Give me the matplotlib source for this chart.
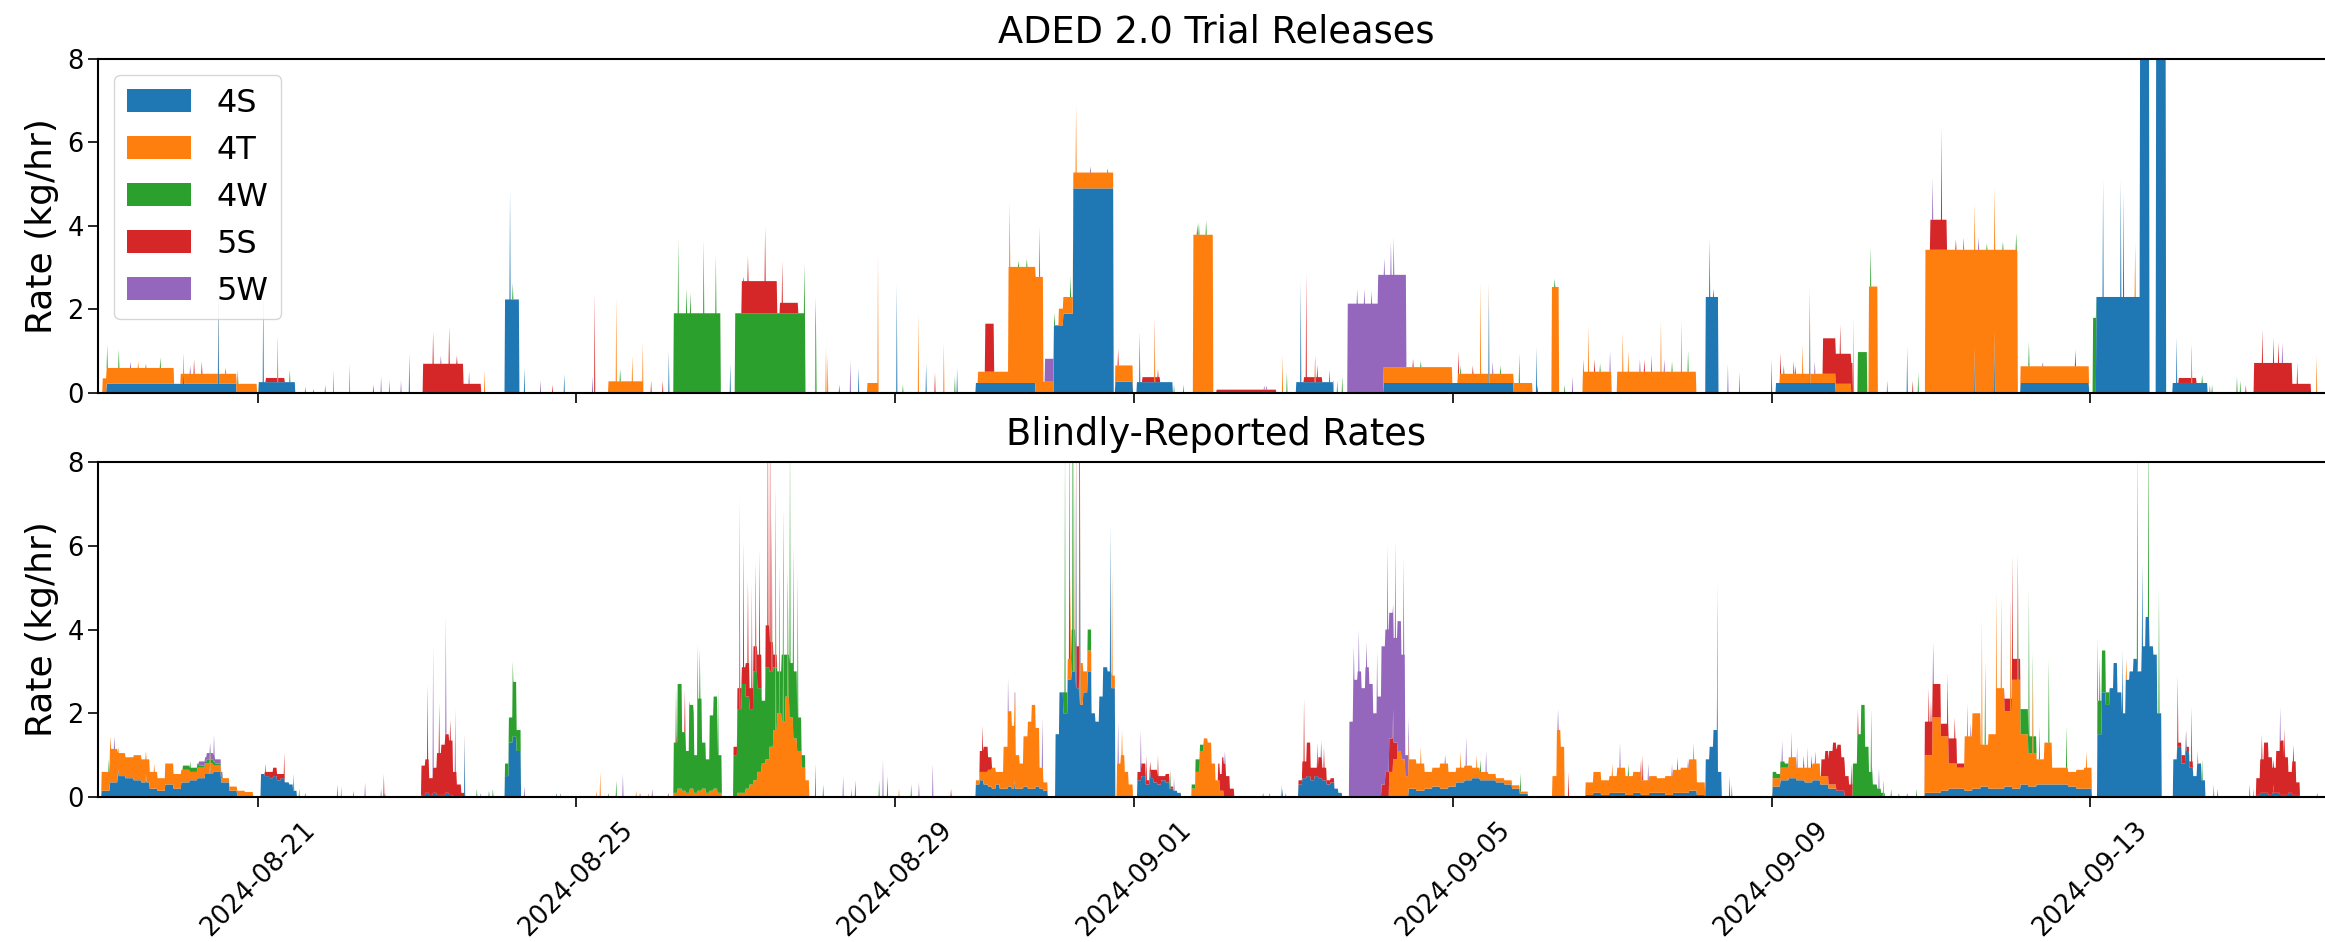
import numpy as np
import matplotlib
matplotlib.use('Agg')
import matplotlib.pyplot as plt
import matplotlib.dates as mdates

series = ['4S', '4T', '4W', '5S', '5W']
t0 = np.datetime64('2024-08-19T00:00')
step = 1 / 144   # 10 minute samples
n_days = 28.1

# ---------------- trial releases: (start day, end day, kg/hr), day 0 = 2024-08-19
trial_4S = [(0.10, 1.73, 0.22), (2.01, 2.47, 0.26), (5.10, 5.28, 2.24), (11.01, 11.76, 0.24),
            (11.99, 12.11, 1.62), (12.11, 12.23, 1.90), (12.23, 12.74, 4.90), (12.76, 12.98, 0.27),
            (13.03, 13.48, 0.26), (15.03, 15.50, 0.26), (16.13, 17.76, 0.24), (20.17, 20.33, 2.30),
            (21.05, 21.80, 0.24), (24.12, 24.98, 0.24), (25.07, 25.62, 2.30), (25.62, 25.74, 9.00),
            (25.82, 25.95, 9.00), (26.03, 26.47, 0.24)]
trial_4T = [(0.05, 0.10, 0.35), (0.10, 0.95, 0.38), (1.03, 1.73, 0.24), (1.73, 1.99, 0.22),
            (6.40, 6.83, 0.28), (9.65, 9.79, 0.24), (11.04, 11.42, 0.27), (11.42, 11.86, 2.78),
            (11.86, 11.99, 0.27), (12.05, 12.23, 0.40), (12.23, 12.74, 0.38), (12.76, 12.98, 0.39),
            (13.74, 13.99, 3.79), (16.13, 16.99, 0.38), (17.06, 17.76, 0.22), (17.76, 18.00, 0.24),
            (18.24, 18.33, 2.54), (18.63, 18.99, 0.51), (19.06, 20.05, 0.51), (21.10, 22.00, 0.22),
            (22.22, 22.33, 2.55), (22.93, 24.09, 3.43), (24.12, 24.98, 0.40)]
trial_4W = [(7.22, 7.81, 1.91), (7.99, 8.87, 1.91), (22.08, 22.20, 0.98), (25.03, 25.07, 1.80)]
trial_5S = [(2.10, 2.34, 0.10), (4.07, 4.58, 0.70), (4.58, 4.80, 0.22), (8.07, 8.52, 0.77),
            (8.55, 8.78, 0.25), (11.13, 11.24, 1.15), (13.10, 13.32, 0.12), (14.03, 14.78, 0.08),
            (15.13, 15.36, 0.12), (21.64, 21.80, 0.85), (21.80, 22.02, 0.72), (22.99, 23.20, 0.72),
            (26.11, 26.33, 0.12), (27.05, 27.53, 0.72), (27.53, 27.77, 0.22)]
trial_5W = [(11.88, 11.99, 0.55), (15.68, 16.06, 2.14), (16.06, 16.13, 2.83), (16.13, 16.41, 2.21)]

# single-sample spikes (day, kg/hr added)
trial_spk_4S = [(1.07, 0.5), (1.51, 2.3), (2.07, 2.2), (3.90, 0.95), (5.17, 2.6), (5.35, 0.6),
                (5.85, 0.45), (7.16, 1.0), (7.93, 0.7), (9.54, 0.6), (10.02, 2.6), (10.39, 0.7),
                (10.78, 0.6), (13.07, 1.2), (15.09, 2.4), (17.45, 2.2), (18.05, 1.1), (20.22, 1.4),
                (21.00, 0.8), (21.48, 2.1), (22.70, 1.1), (23.55, 1.1), (23.80, 1.5), (25.16, 2.8),
                (25.38, 2.8), (25.42, 2.5), (26.08, 1.1)]
trial_spk_4T = [(0.50, 0.15), (2.25, 1.0), (2.95, 0.55), (3.15, 0.7), (4.85, 0.55), (6.50, 2.0),
                (6.70, 0.6), (6.83, 1.2), (9.13, 1.1), (9.15, 0.9), (9.785, 3.1), (10.29, 1.9),
                (10.61, 1.2), (11.44, 1.56), (12.27, 1.6), (13.26, 1.4), (14.86, 0.9), (15.27, 0.5),
                (17.35, 2.2), (18.64, 0.3), (18.70, 1.1), (19.13, 0.95), (19.20, 0.5), (19.61, 1.2),
                (19.87, 1.2), (21.39, 0.7), (22.03, 1.8), (25.56, 1.3), (26.27, 0.8), (27.84, 0.9)]
trial_spk_4W = [(0.11, 0.55), (0.26, 0.45), (0.78, 0.25), (1.75, 0.34), (2.40, 0.3), (2.60, 0.15),
                (2.85, 0.2), (5.20, 0.4), (6.55, 0.3), (7.28, 1.8), (7.38, 0.6), (7.43, 0.5),
                (7.60, 1.75), (7.75, 1.4), (8.86, 1.2), (9.01, 1.6), (10.10, 0.2), (10.75, 0.4),
                (11.55, 0.15), (11.65, 0.2), (12.00, 0.3), (12.20, 0.5), (12.67, 0.1), (13.50, 0.2),
                (13.62, 0.2), (13.81, 0.3), (13.90, 0.35), (14.92, 0.5), (15.45, 0.3), (15.55, 0.3),
                (15.61, 0.4), (16.60, 0.15), (17.10, 0.2), (17.60, 0.2), (17.83, 0.7), (18.28, 0.2),
                (18.40, 0.2), (18.85, 0.2), (19.75, 0.25), (19.95, 0.5), (20.27, 0.2), (21.15, 0.2),
                (21.30, 0.2), (22.24, 0.95), (22.84, 0.5), (23.70, 0.15), (23.90, 0.2), (24.07, 0.4),
                (24.23, 0.6), (25.88, 0.5), (26.40, 0.2), (26.53, 0.2), (26.84, 0.4), (26.88, 0.3)]
trial_spk_5S = [(1.20, 0.35), (1.30, 0.3), (2.70, 0.1), (3.45, 0.2), (4.20, 0.78), (4.40, 0.9),
                (4.50, 0.2), (5.70, 0.2), (6.23, 2.4), (6.94, 0.3), (7.08, 0.3), (8.15, 0.6),
                (8.37, 1.3), (8.58, 1.0), (9.30, 0.2), (10.50, 0.5), (12.80, 0.4), (13.30, 0.2),
                (13.79, 0.25), (15.16, 2.5), (15.30, 0.3), (16.50, 0.2), (17.07, 0.55), (17.25, 0.2),
                (18.06, 0.2), (18.78, 0.3), (19.40, 0.3), (21.11, 0.5), (21.28, 0.3), (21.86, 0.7),
                (22.77, 0.3), (23.13, 2.2), (23.31, 0.25), (24.81, 0.4), (26.95, 0.2), (27.16, 0.8),
                (27.30, 0.6), (27.36, 0.5), (27.60, 0.5)]
trial_spk_5W = [(0.40, 0.15), (0.60, 0.1), (1.15, 0.2), (1.60, 0.15), (3.55, 0.4), (3.65, 0.3),
                (3.80, 0.3), (4.30, 0.2), (4.65, 0.3), (5.55, 0.3), (6.20, 0.4), (8.10, 0.1),
                (9.00, 2.3), (9.44, 0.8), (11.81, 1.2), (12.45, 0.15), (14.63, 0.1), (14.66, 0.1),
                (15.50, 0.3), (15.80, 0.35), (15.89, 0.35), (15.98, 0.3), (16.14, 0.4), (16.22, 0.8),
                (16.26, 0.9), (17.50, 0.3), (18.50, 0.4), (18.97, 0.5), (19.35, 0.3), (19.49, 0.4),
                (19.65, 0.3), (20.45, 0.7), (20.60, 0.5), (21.54, 0.3), (22.45, 0.3), (23.02, 1.0),
                (23.41, 0.3), (23.60, 0.3), (24.40, 0.1), (26.50, 0.2), (27.41, 0.5)]

# ---------------- blindly-reported rates: runs of (start day, step, values)
blind_4S = [(0.04, 0.10, [0.15, 0.35, 0.5, 0.45, 0.4, 0.35, 0.2, 0.15, 0.3, 0.2, 0.35, 0.4, 0.45,
                          0.55, 0.6, 0.35, 0.15, 0.02]),
            (2.04, 0.05, [0.55, 0.5, 0.45, 0.5, 0.4, 0.45, 0.35, 0.3, 0.15]),
            (4.05, 0.05, [0.05, 0.1, 0.05, 0.1, 0.05, 0.05, 0.1, 0.05]),
            (5.10, 0.05, [0.5, 1.3, 1.45, 1.1]),
            (11.01, 0.05, [0.3, 0.4, 0.3, 0.25, 0.2, 0.3, 0.2, 0.2, 0.25, 0.2, 0.2, 0.2, 0.25, 0.2,
                           0.2, 0.25, 0.2, 0.15]),
            (12.01, 0.05, [1.5, 2.5, 2.0, 2.8, 3.0, 2.6, 2.2, 2.5, 3.0, 2.0, 1.8, 2.4, 3.1, 3.0, 2.6]),
            (13.04, 0.05, [0.4, 0.5, 0.3, 0.45, 0.35, 0.3, 0.4, 0.35, 0.2, 0.15, 0.1]),
            (15.06, 0.05, [0.3, 0.45, 0.5, 0.4, 0.5, 0.45, 0.4, 0.3, 0.35, 0.2, 0.1]),
            (16.44, 0.10, [0.2, 0.15, 0.2, 0.25, 0.2, 0.25, 0.35, 0.4, 0.45, 0.4, 0.4, 0.35, 0.3,
                           0.2, 0.08]),
            (18.66, 0.10, [0.05, 0.1, 0.05, 0.1, 0.1, 0.05, 0.1, 0.05, 0.1, 0.1, 0.05, 0.1, 0.1,
                           0.15, 0.05]),
            (20.17, 0.05, [0.9, 1.2, 1.6, 0.6]),
            (21.01, 0.10, [0.25, 0.4, 0.45, 0.4, 0.35, 0.4, 0.3, 0.2, 0.15]),
            (22.92, 0.10, [0.1, 0.1, 0.15, 0.2, 0.2, 0.15, 0.2, 0.25, 0.2, 0.2, 0.25, 0.2, 0.3,
                           0.25, 0.3, 0.3, 0.3, 0.3, 0.25, 0.2, 0.2]),
            (25.09, 0.05, [1.5, 2.5, 2.2, 2.6, 3.2, 2.5, 2.0, 2.8, 3.0, 3.3, 3.0, 3.6, 4.3, 3.6,
                           3.4, 2.0]),
            (26.04, 0.05, [0.9, 1.2, 0.8, 1.1, 0.7, 0.5, 0.8, 0.4]),
            (27.08, 0.05, [0.05, 0.1, 0.1, 0.05, 0.1, 0.1, 0.05, 0.05, 0.1, 0.05, 0.05])]
blind_4T = [(0.04, 0.10, [0.45, 0.8, 0.55, 0.5, 0.6, 0.55, 0.4, 0.3, 0.5, 0.35, 0.3, 0.2, 0.25,
                          0.25, 0.15, 0.1, 0.1, 0.13, 0.12]),
            (7.22, 0.05, [0.1, 0.2, 0.15, 0.1, 0.2, 0.1, 0.15, 0.2, 0.1, 0.15, 0.2, 0.1]),
            (7.97, 0.05, [0.0, 0.1, 0.1, 0.2, 0.3, 0.4, 0.6, 0.8, 0.9, 1.2, 1.6, 2.0, 1.8, 2.4,
                          1.9, 1.4, 1.1, 0.7, 0.4]),
            (11.01, 0.05, [0.1, 0.2, 0.3, 0.4, 0.5, 0.3, 0.4, 1.0, 1.8, 1.5, 0.8, 0.6, 1.2, 1.6,
                           2.0, 1.4, 0.5, 0.2]),
            (12.01, 0.05, [0, 0, 0, 0.5, 0, 0, 1.0, 0.5, 0.5, 0, 0, 0, 0, 0, 0.3]),
            (12.78, 0.05, [0.8, 1.0, 0.6, 0.3]),
            (13.72, 0.05, [0.2, 0.6, 1.1, 1.4, 1.3, 0.8, 0.4, 0.15]),
            (16.20, 0.05, [0.6, 0.9, 1.1, 0.9, 0.5]),
            (16.44, 0.10, [0.7, 0.65, 0.4, 0.45, 0.6, 0.35, 0.35, 0.35, 0.25, 0.2, 0.15, 0.1, 0.1,
                           0.08, 0.05]),
            (18.25, 0.05, [0.5, 1.6, 1.2]),
            (18.66, 0.10, [0.3, 0.5, 0.35, 0.4, 0.6, 0.45, 0.5, 0.35, 0.4, 0.35, 0.45, 0.55, 0.6,
                           0.75, 0.3]),
            (21.01, 0.10, [0.2, 0.3, 0.5, 0.3, 0.35, 0.4, 0.2, 0.1]),
            (22.92, 0.10, [0.9, 1.8, 1.3, 0.6, 0.5, 1.3, 1.8, 1.0, 1.3, 2.4, 1.8, 2.6, 1.2, 0.8,
                           0.6, 1.0, 0.4, 0.4, 0.35, 0.45, 0.5])]
blind_4W = [(1.06, 0.10, [0.1, 0.1, 0.05, 0.1, 0.05]),
            (5.10, 0.05, [0.3, 0.6, 1.3, 0.5]),
            (7.22, 0.05, [1.2, 2.5, 1.4, 1.0, 2.0, 0.9, 2.2, 1.1, 0.8, 1.8, 2.2, 0.9]),
            (7.97, 0.05, [1.0, 2.0, 2.6, 2.2, 1.8, 2.6, 2.0, 1.5, 2.2, 1.8, 1.5, 1.0, 1.6, 1.0,
                          1.3, 1.6, 0.8, 0.3]),
            (12.01, 0.05, [0, 0, 0.5, 0, 1.0, 0, 0, 0, 0.5]),
            (13.72, 0.05, [0.1, 0.3, 0.15]),
            (21.01, 0.05, [0.15, 0.1, 0.15, 0.1]),
            (22.02, 0.05, [0.8, 1.5, 2.2, 1.2, 0.6, 0.3, 0.2, 0.1]),
            (24.12, 0.10, [0.6, 0.4]),
            (25.09, 0.05, [0.8, 1.0, 0.3])]
blind_5S = [(2.09, 0.05, [0.1, 0.15, 0.2, 0.15, 0.1]),
            (4.05, 0.05, [0.7, 0.8, 0.4, 0.6, 1.0, 1.2, 1.4, 1.3, 0.6, 0.3, 0.1]),
            (7.97, 0.05, [0.2, 0.5, 0.4, 0.8, 0.5, 0.6, 0.8, 0.0, 1.0, 0.7, 0.3]),
            (11.06, 0.05, [0.5, 0.6, 0.3]),
            (12.26, 0.05, [1.0]),
            (13.04, 0.05, [0.2, 0.3, 0.1, 0.2, 0.3, 0.2, 0.1, 0.2, 0.05]),
            (14.05, 0.05, [0.4, 0.8, 0.5, 0.2]),
            (15.06, 0.05, [0.1, 0.4, 0.8, 0.3, 0.2, 0.5, 0.3, 0.1, 0.1]),
            (16.10, 0.05, [0.3, 0.6, 0.8, 0.4]),
            (21.62, 0.05, [0.4, 0.6, 0.8, 1.0, 1.1, 0.8, 0.5, 0.3]),
            (22.92, 0.10, [0.8, 0.8, 0.3, 0.6, 0.1, 0, 0, 0, 0, 0, 0.3, 0.5]),
            (26.09, 0.05, [0.1, 0.2, 0.1, 0.15]),
            (27.08, 0.05, [0.4, 0.8, 1.2, 0.9, 0.6, 1.0, 1.3, 0.9, 0.5, 0.8, 0.3])]
blind_5W = [(1.26, 0.10, [0.1, 0.15, 0.1]),
            (15.70, 0.05, [1.8, 2.8, 3.0, 2.6, 3.1, 2.7, 2.0, 2.4, 3.3, 3.4, 3.0, 2.5, 3.1, 2.5, 0.5])]

blind_spk_4S = [(0.25, 0.15), (0.60, 0.2), (1.40, 0.25), (3.60, 0.1), (4.60, 1.4), (4.90, 0.15),
                (5.75, 0.1), (11.50, 0.2), (12.27, 5.0), (12.32, 5.0), (12.70, 3.5), (13.20, 0.2),
                (14.86, 0.2), (20.32, 1.2), (20.47, 0.5), (25.40, 1.5), (25.65, 2.0), (26.20, 0.4),
                (27.85, 0.1)]
blind_spk_4T = [(0.15, 0.3), (0.70, 0.2), (3.05, 0.25), (6.25, 0.15), (6.30, 0.6), (6.75, 0.15),
                (6.90, 0.1), (8.50, 4.0), (8.55, 2.5), (8.60, 3.5), (8.65, 2.0), (9.45, 0.2),
                (10.05, 0.2), (11.50, 0.6), (12.20, 2.0), (12.24, 5.0), (12.72, 2.5), (12.85, 0.6),
                (14.85, 0.3), (16.60, 0.4), (17.10, 0.4), (17.30, 0.3), (19.00, 0.3), (20.02, 0.4),
                (20.32, 0.2), (21.25, 0.6), (21.45, 0.5), (22.40, 0.3), (23.46, 0.8), (23.64, 3.0),
                (23.82, 3.4), (23.88, 2.2), (24.00, 2.4), (24.28, 2.0), (24.95, 0.4), (25.45, 0.5),
                (26.35, 0.3), (27.05, 0.2)]
blind_spk_4W = [(0.13, 0.3), (1.15, 0.15), (2.45, 0.4), (2.52, 0.2), (3.00, 0.3), (3.20, 0.15),
                (4.75, 0.2), (4.95, 0.2), (5.20, 0.5), (6.40, 0.1), (6.50, 0.4), (7.25, 1.3),
                (7.42, 1.2), (7.47, 1.0), (7.52, 1.3), (7.55, 1.2), (7.78, 1.6), (8.05, 1.5),
                (8.25, 2.0), (8.45, 3.0), (8.68, 5.5), (8.72, 3.0), (8.78, 3.5), (9.00, 0.8),
                (9.10, 0.3), (9.80, 0.4), (10.20, 0.3), (12.13, 6.0), (12.23, 7.0), (13.45, 0.4),
                (17.35, 0.3), (17.85, 0.45), (19.20, 0.3), (19.82, 0.3), (20.32, 1.2), (22.25, 1.5),
                (22.50, 0.2), (22.60, 0.1), (22.82, 0.2), (23.68, 2.0), (24.09, 2.5), (24.23, 3.5),
                (24.48, 2.0), (24.70, 1.0), (25.12, 1.0), (25.59, 5.5), (25.73, 5.0), (25.86, 3.0),
                (26.40, 0.5), (26.60, 0.2), (27.00, 0.3), (27.30, 0.2)]
blind_spk_5S = [(2.33, 0.5), (2.60, 0.1), (3.58, 0.55), (4.13, 1.8), (4.28, 1.2), (4.42, 0.5),
                (6.80, 0.1), (7.15, 0.1), (7.26, 0.2), (7.36, 1.0), (8.10, 3.0), (8.15, 2.0),
                (8.20, 1.5), (8.30, 2.5), (8.40, 6.0), (8.43, 6.0), (9.50, 0.4), (9.90, 0.5),
                (10.70, 0.2), (11.10, 0.6), (12.19, 6.0), (12.31, 7.0), (13.15, 0.6), (13.30, 0.5),
                (14.62, 0.1), (14.70, 0.1), (15.13, 1.5), (15.30, 0.6), (15.38, 0.5), (18.45, 0.6),
                (19.36, 0.5), (19.38, 0.6), (20.32, 0.4), (21.40, 0.3), (21.50, 0.3), (22.00, 0.5),
                (22.08, 0.6), (22.70, 0.1), (22.97, 0.8), (23.00, 0.5), (23.21, 1.2), (23.30, 0.5),
                (24.02, 2.5), (25.09, 1.5), (26.10, 1.6), (26.27, 1.3), (27.15, 0.6), (27.44, 0.7),
                (27.55, 0.4)]
blind_spk_5W = [(0.20, 0.3), (1.45, 0.5), (2.10, 0.2), (3.35, 0.35), (3.55, 0.2), (4.20, 2.9),
                (4.36, 2.8), (4.48, 1.5), (4.80, 0.1), (5.35, 0.25), (5.80, 0.1), (6.58, 0.55),
                (6.95, 0.2), (8.05, 3.0), (8.20, 1.0), (9.35, 0.5), (9.85, 0.9), (10.30, 0.35),
                (10.47, 0.8), (11.42, 0.8), (11.51, 0.8), (11.85, 1.2), (12.80, 1.0), (13.08, 1.0),
                (13.50, 0.3), (14.14, 0.3), (14.90, 0.1), (15.35, 0.4), (15.76, 0.8), (15.82, 1.0),
                (15.92, 0.6), (16.05, 1.5), (16.18, 2.0), (16.28, 2.3), (16.38, 2.3), (16.90, 0.2),
                (17.17, 0.7), (17.42, 0.5), (18.32, 0.5), (19.10, 0.6), (19.45, 0.4), (19.75, 0.3),
                (19.95, 0.2), (20.32, 0.5), (20.50, 0.3), (21.13, 0.5), (21.32, 0.5), (21.55, 0.3),
                (22.26, 0.2), (22.35, 0.5), (23.03, 1.0), (23.50, 0.3), (24.36, 0.8), (26.55, 0.3),
                (27.38, 0.8)]

days = np.arange(0, n_days, step)


def build(blocks=(), runs=(), spikes=()):
    y = np.zeros(len(days))
    for a, b, v in blocks:
        y[(days >= a) & (days < b)] += v
    for a, w, vals in runs:
        for i, v in enumerate(vals):
            lo = a + i * w
            y[(days >= lo) & (days < lo + w)] += v
    for d, v in spikes:
        y[int(round(d / step))] += v
    return y


trial = [build(blocks=b, spikes=s) for b, s in zip(
    [trial_4S, trial_4T, trial_4W, trial_5S, trial_5W],
    [trial_spk_4S, trial_spk_4T, trial_spk_4W, trial_spk_5S, trial_spk_5W])]
blind = [build(runs=r, spikes=s) for r, s in zip(
    [blind_4S, blind_4T, blind_4W, blind_5S, blind_5W],
    [blind_spk_4S, blind_spk_4T, blind_spk_4W, blind_spk_5S, blind_spk_5W])]

x = mdates.date2num(t0) + days

fig = plt.figure(figsize=(23.25, 9.42), dpi=100)
ax1 = fig.add_axes([0.0423, 0.5828, 0.9613, 0.3546])
ax2 = fig.add_axes([0.0423, 0.1539, 0.9613, 0.3556], sharex=ax1)

ax1.stackplot(x, *trial, labels=series)
ax2.stackplot(x, *blind)

for ax, title in [(ax1, 'ADED 2.0 Trial Releases'), (ax2, 'Blindly-Reported Rates')]:
    ax.set_ylim(0, 8)
    ax.set_yticks([0, 2, 4, 6, 8])
    ax.set_ylabel('Rate (kg/hr)', fontsize=26, labelpad=6)
    ax.set_title(title, fontsize=26.5, pad=12)
    ax.tick_params(labelsize=18.5, length=7, width=1.2)
    ax.tick_params(axis='x', pad=7)
    for sp in ax.spines.values():
        sp.set_linewidth(1.5)

ax1.set_xlim(mdates.date2num(t0), mdates.date2num(t0) + 28.05)
ax2.xaxis.set_major_locator(mdates.DayLocator(bymonthday=[1, 5, 9, 13, 17, 21, 25, 29]))
ax2.xaxis.set_major_formatter(mdates.DateFormatter('%Y-%m-%d'))
plt.setp(ax1.get_xticklabels(), visible=False)
plt.setp(ax2.get_xticklabels(), rotation=45)

ax1.legend(loc='upper left', fontsize=23)

fig.savefig('out.png', dpi=100)
